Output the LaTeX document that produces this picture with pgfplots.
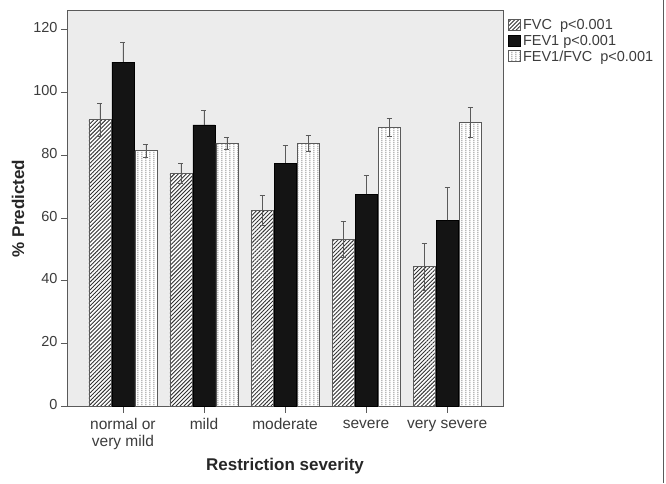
\documentclass[border=0pt]{standalone}
\usepackage{fontspec}
\setmainfont{Liberation Sans}
\usepackage{pgfplots}
\usepackage{pgfplotstable}
\pgfplotsset{compat=1.18}
\usetikzlibrary{patterns,patterns.meta}

\definecolor{plotbg}{HTML}{ECECEC}
\definecolor{axisgray}{HTML}{5A5A5A}
\definecolor{txtgray}{HTML}{3C3C3C}

% columns of small dots for FEV1/FVC
\pgfdeclarepatternformonly{dotcols}{\pgfpointorigin}{\pgfpoint{4.4pt}{2.2pt}}{\pgfpoint{4.4pt}{2.2pt}}{%
  \pgfpathrectangle{\pgfpoint{1.6pt}{0.6pt}}{\pgfpoint{1pt}{1pt}}\pgfusepath{fill}}

\pgfplotstableread{
x fvc fvcerr fev feverr ratio ratioerr
0 91.2 5.1 109.6 6.4 81.4 2.1
1 74.2 3.2 89.6 4.5 83.8 1.9
2 62.4 4.8 77.4 5.7 83.8 2.5
3 53.2 5.7 67.5 6.1 88.9 2.8
4 44.5 7.5 59.2 10.6 90.4 4.8
}\data

\begin{document}
\begin{tikzpicture}
\begin{axis}[
    name=ax,
    scale only axis,
    width=436pt, height=396pt,
    ybar=1pt,
    bar width=22pt,
    xmin=-0.69, xmax=4.69,
    ymin=0, ymax=126,
    xtick={0,1,2,3,4},
    xticklabels={{normal or\\very mild},mild,moderate,severe,very severe},
    ytick={0,20,40,60,80,100,120},
    xtick pos=bottom, ytick pos=left,
    tick align=outside,
    major tick length=6pt,
    axis line style={axisgray, line width=0.8pt},
    tick style={axisgray, line width=0.8pt},
    axis background/.style={fill=plotbg},
    /pgf/number format/assume math mode=true,
    typeset ticklabels with strut,
    yticklabel style={font=\fontsize{14.5}{16}\selectfont, text=txtgray},
    xticklabel style={font=\fontsize{15.5}{15}\selectfont, text=txtgray, align=center, yshift=-2pt},
    xlabel={Restriction severity},
    ylabel={\% Predicted},
    every axis x label/.style={at={(axis description cs:0.5,0)}, yshift=-60pt, anchor=center,
      font=\bfseries\fontsize{17}{18}\selectfont, text=black!85},
    every axis y label/.style={at={(axis description cs:0,0.5)}, xshift=-49pt, rotate=90, anchor=center,
      font=\bfseries\fontsize{17}{18}\selectfont, text=black!85},
    legend style={at={(axis description cs:1.0,0.985)}, anchor=north west, draw=none, fill=none,
      font=\fontsize{14.5}{15}\selectfont, text=txtgray, row sep=0pt, inner sep=1pt, xshift=4pt},
    legend cell align=left,
    legend image code/.code={\draw[#1] (0pt,-5pt) rectangle (12pt,6pt);},
    error bars/y explicit,
    error bars/error bar style={axisgray, line width=0.8pt},
    error bars/error mark options={rotate=90, mark size=2.5pt, axisgray, line width=0.8pt},
]
\addplot[fill=white, draw=axisgray, line width=0.8pt, error bars/y dir=both,
  postaction={pattern={Lines[angle=45,distance=2.8pt,line width=0.9pt]}, pattern color=black!80}]
  table[x=x, y=fvc, y error=fvcerr] {\data};
\addplot[fill=black!92, draw=black, line width=0.8pt, error bars/y dir=plus]
  table[x=x, y=fev, y error=feverr] {\data};
\addplot[fill=white, draw=axisgray, line width=0.8pt, error bars/y dir=both,
  postaction={pattern=dotcols, pattern color=black!65}]
  table[x=x, y=ratio, y error=ratioerr] {\data};
\legend{FVC~~p<0.001, FEV1 p<0.001, FEV1/FVC~~p<0.001}
\end{axis}
\draw[axisgray, line width=1pt] (ax.south west) ++(596pt,-76pt) -- ++(0,482pt);
\path (ax.south west) ++(-67pt,-76pt) rectangle ++(666pt,482pt);
\end{tikzpicture}
\end{document}
